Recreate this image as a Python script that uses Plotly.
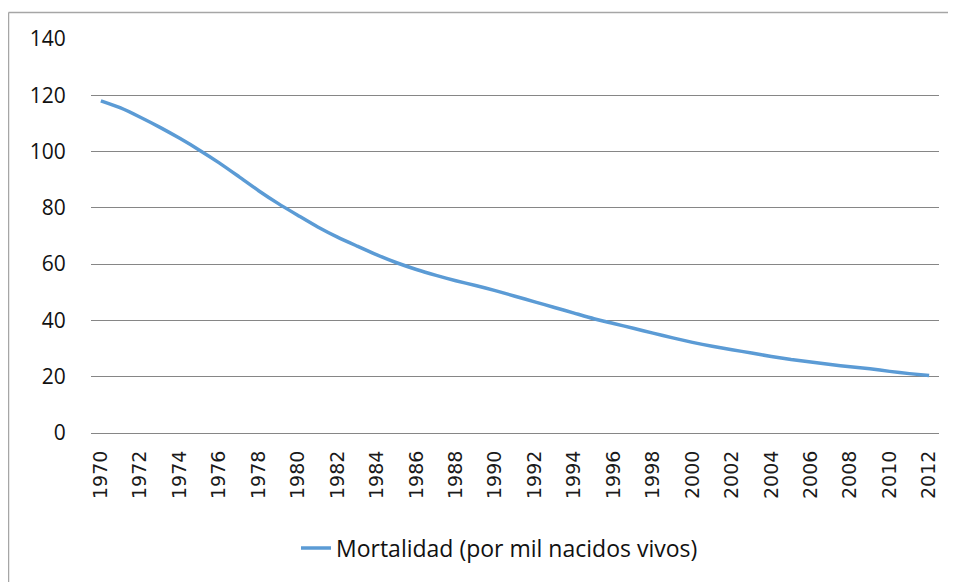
import plotly.graph_objects as go

years = list(range(1970, 2013))
mortalidad = [118.0, 115.5, 112.2, 108.6, 104.7, 100.5, 96.0, 91.1, 86.1, 81.5,
              77.3, 73.2, 69.6, 66.4, 63.3, 60.5, 58.1, 56.0, 54.1, 52.4,
              50.6, 48.6, 46.6, 44.6, 42.6, 40.6, 38.9, 37.2, 35.5, 33.8,
              32.2, 30.8, 29.6, 28.4, 27.2, 26.1, 25.2, 24.3, 23.5, 22.8,
              21.9, 21.1, 20.4]
tick_years = list(range(1970, 2013, 2))
y_ticks = [0, 20, 40, 60, 80, 100, 120, 140]
serie = "Mortalidad (por mil nacidos vivos)"

# page has an 8px body margin; work in figure coordinates
OFF = 8
W, H = 956 - OFF, 582 - OFF
L, R, T, B = 91 - OFF, 939 - OFF, 39 - OFF, 433 - OFF
pw, ph = R - L, B - T

fig = go.Figure()
fig.add_trace(go.Scatter(
    x=years, y=mortalidad, mode="lines", name=serie,
    line=dict(color="#5B9BD5", width=3.5, shape="spline", smoothing=0.6),
))

def px_x(p):
    return (p - OFF - L) / pw

def px_y(p):
    return (B - (p - OFF)) / ph

gray = "#A6A6A6"
fig.add_shape(type="line", xref="paper", yref="paper",
              x0=px_x(8.5), x1=px_x(970), y0=px_y(12.5), y1=px_y(12.5),
              line=dict(color=gray, width=1.5))
fig.add_shape(type="line", xref="paper", yref="paper",
              x0=px_x(8.5), x1=px_x(8.5), y0=px_y(12.5), y1=px_y(600),
              line=dict(color=gray, width=1.5))

fig.update_layout(
    width=W, height=H,
    margin=dict(l=L, r=W - R, t=T, b=H - B),
    paper_bgcolor="white", plot_bgcolor="white",
    showlegend=True,
    legend=dict(orientation="h", x=px_x(296), xanchor="left",
                y=px_y(548), yanchor="middle",
                font=dict(family="Open Sans", size=23, color="#111111"),
                itemwidth=30),
    xaxis=dict(range=[1969.5, 2012.5], tickmode="array", tickvals=tick_years,
               ticktext=[str(v) for v in tick_years], tickangle=-90,
               tickfont=dict(family="DejaVu Sans", size=19, color="#1a1a1a"),
               ticks="outside", ticklen=9, tickcolor="rgba(0,0,0,0)",
               showgrid=False, showline=True, linecolor="#868686", linewidth=1.2,
               zeroline=False),
    yaxis=dict(range=[0, 140], tickmode="array", tickvals=y_ticks,
               tickfont=dict(family="Open Sans", size=21, color="#111111"),
               ticks="outside", ticklen=20, tickcolor="rgba(0,0,0,0)",
               showgrid=True, gridcolor="#868686", gridwidth=1.2,
               zeroline=False, showline=False),
)

fig.write_html("out.html")
